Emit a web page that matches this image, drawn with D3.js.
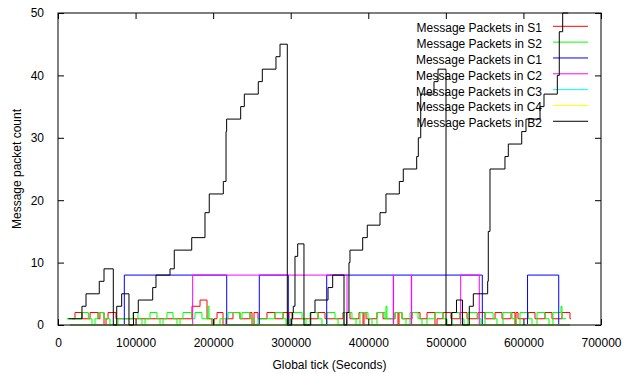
<!DOCTYPE html>
<html>
<head>
<meta charset="utf-8">
<script src="https://cdn.jsdelivr.net/npm/d3@7"></script>
<style>
  html, body { margin: 0; padding: 0; background: #fff; }
  svg text { font-family: "Liberation Sans", Arial, sans-serif; font-size: 12px; fill: #000; }
</style>
</head>
<body>
<svg id="chart" width="625" height="374"></svg>
<script>
// ---- data (global tick in seconds, message packet count), step-after ----
const seriesNames = ["Message Packets in S1", "Message Packets in S2", "Message Packets in C1",
  "Message Packets in C2", "Message Packets in C3", "Message Packets in C4", "Message Packets in B2"];
const seriesColors = ["#ff0000", "#00ff00", "#0000ff", "#ff00ff", "#00ffff", "#ffff00", "#000000"];

const xTickValues = [0, 100000, 200000, 300000, 400000, 500000, 600000, 700000];
const yTickValues = [0, 10, 20, 30, 40, 50];
const xLabel = "Global tick (Seconds)";
const yLabel = "Message packet count";

const S1 = [[18000,1],[21900,2],[30900,1],[41300,2],[51600,1],[54100,2],[59300,0],[61900,1],[64500,2],[74800,1],
  [172700,3],[183100,4],[192100,1],[198500,0],[201100,1],[205000,2],[212700,0],[216600,1],[225600,2],[234600,1],
  [247500,2],[250100,0],[252700,2],[257800,1],[269400,2],[279700,1],[290100,2],[296500,0],[297800,2],[301700,1],
  [335200,2],[344200,1],[367400,2],[376400,1],[388000,2],[393200,0],[394500,2],[397100,1],[411200,2],[419000,1],
  [434400,2],[438300,0],[439600,2],[443500,1],[456400,2],[466700,1],[475700,2],[486000,0],[488600,1],[496300,2],[506600,1],
  [518200,2],[527300,1],[541400,2],[550500,1],[563400,2],[572400,1],[584000,2],[589100,0],[590400,2],[593000,1],
  [605900,2],[614900,1],[627800,2],[636800,1],[649700,2],[660000,1],[661300,1]];

const S2 = [[11200,1],[30600,2],[39100,1],[43800,0],[47700,1],[51600,2],[59300,1],[67000,0],[77300,1],[96700,2],
  [103100,1],[108300,0],[112200,1],[118600,2],[127600,1],[131500,0],[135400,1],[140500,2],[148300,1],[153400,0],
  [157300,1],[161100,2],[172700,1],[176600,2],[185600,1],[193400,3],[194700,1],[199800,0],[208800,1],[219200,2],
  [234600,1],[237200,2],[247500,1],[252700,0],[257800,1],[279700,2],[290100,1],[293900,0],[299100,1],[302900,2],
  [314600,1],[319700,0],[324900,2],[335200,1],[340300,0],[346800,2],[357100,1],[361000,0],[368700,2],[379000,1],
  [384200,0],[389300,2],[399600,1],[404800,0],[411200,2],[421500,1],[422800,3],[424100,1],[434400,2],[443500,1],
  [448600,0],[453800,2],[464100,1],[469200,0],[475700,1],[486000,2],[496300,1],[501500,0],[507900,2],[518200,1],
  [523400,0],[528500,2],[540200,1],[545300,0],[550500,2],[560800,1],[565900,0],[573700,2],[585300,1],[590400,0],
  [595600,2],[605900,1],[611100,0],[617500,2],[627800,1],[633000,0],[638100,2],[648400,3],[649700,1],[654900,1]];

const C1 = [[15500,0],[85500,8],[217500,0],[259500,8],[296900,0],[346400,8],[547000,0],[605300,8],[645500,0],[660000,0]];

const C2 = [[15500,0],[173600,8],[372600,0],[432200,8],[432600,0],[455500,8],[455900,0],[519100,8],[543100,0],[660000,0]];

const C3 = [[15500,0],[660000,0]];
const C4 = [[15500,0],[660000,0]];

const B2 = [[13300,1],[30900,3],[36100,5],[53200,7],[59300,9],[71300,0],[75700,3],[82100,5],[91500,0],
  [97300,2],[103500,4],[122100,6],[126300,8],[144400,9],[149900,12],[172400,14],[189500,18],[195000,21],
  [213100,23],[216600,31],[217400,33],[235500,35],[240200,37],[258200,39],[263400,41],[281000,43],[286200,45],
  [295600,0],[301300,1],[302300,2],[303300,3],[305500,11],[309000,13],[317100,0],[325800,2],[331300,4],
  [348100,6],[354100,8],[368700,0],[372200,2],[375100,10],[376400,12],[392800,14],[398700,16],[415100,18],
  [422800,21],[440000,23],[445100,25],[462400,27],[464500,30],[467600,37],[484700,39],[489900,41],[500200,0],
  [507500,2],[513700,4],[521500,0],[530200,3],[535400,5],[553900,7],[554700,15],[556900,25],[576200,27],
  [580500,29],[597800,31],[603300,33],[621400,35],[626500,37],[643700,40],[646200,47],[650600,50],[657800,50]];

const seriesData = [S1, S2, C1, C2, C3, C4, B2];

(function draw() {
  const svg = d3.select("#chart");
  const mL = 58, mR = 601, mT = 13, mB = 325;

  const x = d3.scaleLinear().domain([0, 700000]).range([mL, mR]);
  const y = d3.scaleLinear().domain([0, 50]).range([mB, mT]);

  const line = d3.line().x(d => x(d[0])).y(d => y(d[1])).curve(d3.curveStepAfter);

  // legend (drawn first; plot lines pass over it as in the reference)
  const legend = svg.append("g");
  seriesNames.forEach((name, i) => {
    const ly = 26.3 + 15.83 * i;
    legend.append("text").attr("x", 542).attr("y", ly + 6).attr("text-anchor", "end").text(name);
    legend.append("line").attr("x1", 553).attr("x2", 588).attr("y1", ly).attr("y2", ly)
      .attr("stroke", seriesColors[i]).attr("stroke-width", 1);
  });

  // series
  const plot = svg.append("g");
  seriesData.forEach((data, i) => {
    plot.append("path").datum(data).attr("d", line)
      .attr("fill", "none").attr("stroke", seriesColors[i]).attr("stroke-width", 1);
  });

  // frame and ticks
  svg.append("rect").attr("x", mL).attr("y", mT).attr("width", mR - mL).attr("height", mB - mT)
    .attr("fill", "none").attr("stroke", "#000").attr("stroke-width", 1);

  const styleText = g => g.selectAll("text")
    .style("font-family", '"Liberation Sans", Arial, sans-serif').style("font-size", "12px").attr("fill", "#000");

  const gx = svg.append("g").attr("transform", `translate(0,${mB})`)
    .call(d3.axisBottom(x).tickValues(xTickValues).tickFormat(d3.format("d"))
      .tickSizeInner(-6).tickSizeOuter(0).tickPadding(13));
  gx.select(".domain").remove();
  styleText(gx);
  const gxt = svg.append("g").attr("transform", `translate(0,${mT})`)
    .call(d3.axisTop(x).tickValues(xTickValues).tickSizeInner(-6).tickSizeOuter(0).tickFormat(""));
  gxt.select(".domain").remove();

  const gy = svg.append("g").attr("transform", `translate(${mL},0)`)
    .call(d3.axisLeft(y).tickValues(yTickValues).tickSizeInner(-6).tickSizeOuter(0).tickPadding(14));
  gy.select(".domain").remove();
  styleText(gy);
  const gyr = svg.append("g").attr("transform", `translate(${mR},0)`)
    .call(d3.axisRight(y).tickValues(yTickValues).tickSizeInner(-6).tickSizeOuter(0).tickFormat(""));
  gyr.select(".domain").remove();

  // axis titles
  svg.append("text").attr("x", (mL + mR) / 2).attr("y", 369).attr("text-anchor", "middle").text(xLabel);
  svg.append("text").attr("transform", `translate(21,${(mT + mB) / 2}) rotate(-90)`)
    .attr("text-anchor", "middle").text(yLabel);
})();
</script>
</body>
</html>
